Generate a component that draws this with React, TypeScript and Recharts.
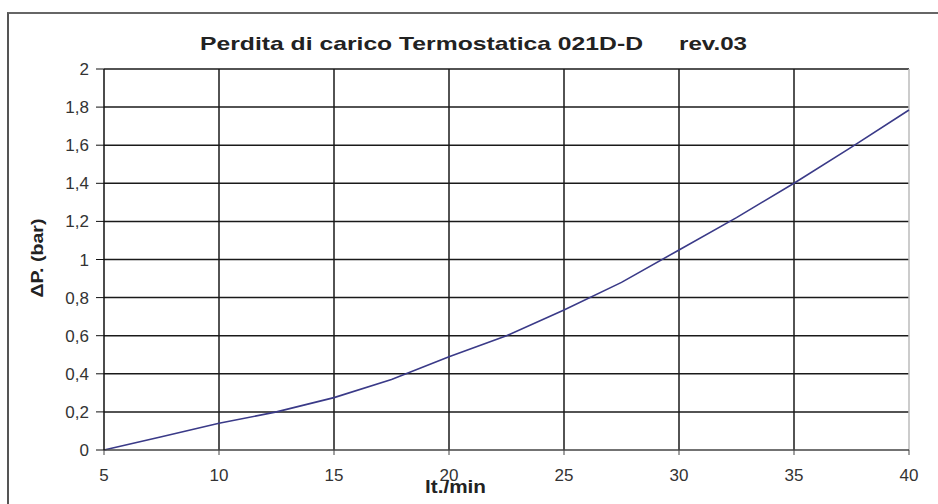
import { LineChart, Line, XAxis, YAxis, CartesianGrid, ReferenceLine } from "recharts";

const flow = [5, 7.5, 10, 12.5, 15, 17.5, 20, 22.5, 25, 27.5, 30, 32.5, 35, 37.5, 40];
const deltaP = [0, 0.07, 0.14, 0.2, 0.275, 0.37, 0.49, 0.6, 0.735, 0.88, 1.05, 1.22, 1.4, 1.59, 1.785];
const xTicks = [5, 10, 15, 20, 25, 30, 35, 40];
const yTicks = [0, 0.2, 0.4, 0.6, 0.8, 1, 1.2, 1.4, 1.6, 1.8, 2];

const data = flow.map((f, i) => ({ flow: f, dp: deltaP[i] }));

const font = "'Liberation Sans', Arial, sans-serif";

export default function App() {
  return (
    <div style={{ position: "absolute", left: 0, top: 0, width: 938, height: 504, overflow: "hidden", background: "#fff", fontFamily: font }}>
      <div style={{ position: "absolute", left: 7, top: 12, width: 960, height: 520, borderLeft: "2px solid #555", borderTop: "2px solid #666" }} />
      <LineChart
        width={938}
        height={504}
        data={data}
        margin={{ top: 69, right: 29, left: 0, bottom: 0 }}
        style={{ position: "absolute", left: 0, top: 0 }}
      >
        <CartesianGrid
          stroke="#1a1a1a"
          strokeWidth={1.5}
          verticalValues={[10, 15, 20, 25, 30, 35]}
          horizontalValues={[0.2, 0.4, 0.6, 0.8, 1, 1.2, 1.4, 1.6, 1.8, 2]}
        />
        <ReferenceLine x={40} stroke="#bbb" strokeWidth={1.5} />
        <XAxis
          dataKey="flow"
          type="number"
          domain={[5, 40]}
          ticks={xTicks}
          height={54}
          tickSize={5}
          tickMargin={14}
          stroke="#444"
          axisLine={{ stroke: "#444", strokeWidth: 1.5 }}
          tick={{ fill: "#333", fontSize: 17, fontFamily: font }}
        />
        <YAxis
          type="number"
          domain={[0, 2]}
          ticks={yTicks}
          width={104}
          tickSize={8}
          tickMargin={7}
          stroke="#111"
          axisLine={{ stroke: "#111", strokeWidth: 1.5 }}
          tickFormatter={(v: number) => String(v).replace(".", ",")}
          tick={{ fill: "#333", fontSize: 17, fontFamily: font }}
        />
        <Line
          type="linear"
          dataKey="dp"
          stroke="#3a3a88"
          strokeWidth={1.6}
          dot={false}
          isAnimationActive={false}
        />
      </LineChart>
      <svg width={938} height={504} style={{ position: "absolute", left: 0, top: 0, pointerEvents: "none" }}>
        <text x={200} y={50} fontSize={19} fontWeight="bold" fill="#222" fontFamily={font} textLength={443} lengthAdjust="spacingAndGlyphs">
          Perdita di carico Termostatica 021D-D
        </text>
        <text x={679} y={50} fontSize={19} fontWeight="bold" fill="#222" fontFamily={font} textLength={68} lengthAdjust="spacingAndGlyphs">
          rev.03
        </text>
        <text x={425} y={493} fontSize={18} fontWeight="bold" fill="#222" fontFamily={font} textLength={61} lengthAdjust="spacingAndGlyphs">
          lt./min
        </text>
        <text
          x={0}
          y={0}
          transform="translate(43, 258) rotate(-90)"
          textAnchor="middle"
          fontSize={17}
          fontWeight="bold"
          fill="#222"
          fontFamily={font}
          textLength={79}
          lengthAdjust="spacingAndGlyphs"
        >
          ΔP. (bar)
        </text>
      </svg>
    </div>
  );
}
